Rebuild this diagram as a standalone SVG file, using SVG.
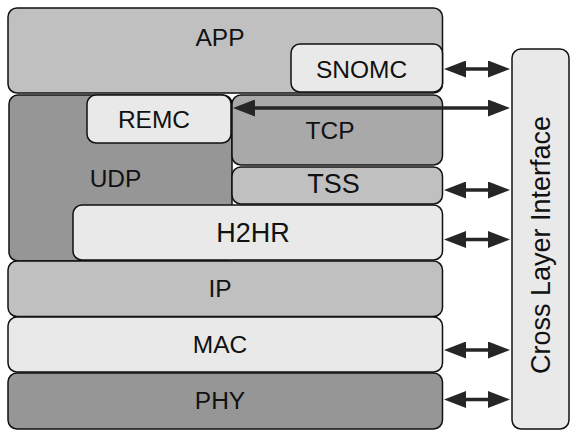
<svg xmlns="http://www.w3.org/2000/svg" width="571" height="432" viewBox="0 0 571 432">
<style>
.box{stroke:#111;stroke-width:1.5}
.l{font-family:"Liberation Sans",Arial,sans-serif;font-size:24.5px;fill:#111;text-anchor:middle}
.big{font-size:27px}
.c1{fill:#c0c0c0}.c2{fill:#969696}.c3{fill:#e9e9e9}.c4{fill:#a9a9a9}
.arr{stroke:#262626;stroke-width:3.5;fill:none;marker-start:url(#ah);marker-end:url(#ah)}
</style>
<defs>
<marker id="ah" markerUnits="userSpaceOnUse" markerWidth="22" markerHeight="17" refX="12" refY="8.5" orient="auto-start-reverse" viewBox="0 0 22 17">
<path d="M0,0 L22,8.5 L0,17 z" fill="#262626"/>
</marker>
</defs>
<g id="app"><rect class="box c1" x="8" y="8" width="434.5" height="85" rx="9"/><text class="l" x="220" y="46">APP</text></g>
<g id="snomc"><rect class="box c3" x="291" y="44" width="151.5" height="48" rx="9"/><text class="l" x="361.5" y="78">SNOMC</text></g>
<g id="udp"><rect class="box c2" x="9" y="95" width="223" height="166" rx="9"/><text class="l" x="115.5" y="186.5">UDP</text></g>
<g id="remc"><rect class="box c3" x="87" y="95" width="144" height="48" rx="9"/><text class="l" x="154" y="127.5">REMC</text></g>
<g id="tcp"><rect class="box c4" x="232" y="95" width="210.5" height="70" rx="9"/><text class="l" x="330" y="139">TCP</text></g>
<g id="tss"><rect class="box c1" x="232" y="167" width="210.5" height="37" rx="9"/><text class="l big" x="333.5" y="193">TSS</text></g>
<g id="h2hr"><rect class="box c3" x="73" y="205" width="369.5" height="55" rx="9"/><text class="l big" x="253" y="242">H2HR</text></g>
<g id="ip"><rect class="box c1" x="8" y="261" width="434.5" height="55.5" rx="9"/><text class="l" x="220" y="296.5">IP</text></g>
<g id="mac"><rect class="box c3" x="8" y="317" width="434.5" height="55" rx="9"/><text class="l" x="220" y="353">MAC</text></g>
<g id="phy"><rect class="box c2" x="8" y="373" width="434.5" height="56" rx="9"/><text class="l" x="220" y="409">PHY</text></g>
<g id="cli"><rect class="box c3" x="512" y="49" width="57" height="380" rx="9"/><text class="l big" transform="translate(549.5,245) rotate(-90)">Cross Layer Interface</text></g>
<g id="connectors">
<line class="arr" x1="454" y1="69" x2="500" y2="69"/>
<line class="arr" x1="243" y1="108" x2="500" y2="108"/>
<line class="arr" x1="454" y1="190" x2="500" y2="190"/>
<line class="arr" x1="454" y1="239.5" x2="500" y2="239.5"/>
<line class="arr" x1="454" y1="350" x2="500" y2="350"/>
<line class="arr" x1="454" y1="399.5" x2="500" y2="399.5"/>
</g>
</svg>
